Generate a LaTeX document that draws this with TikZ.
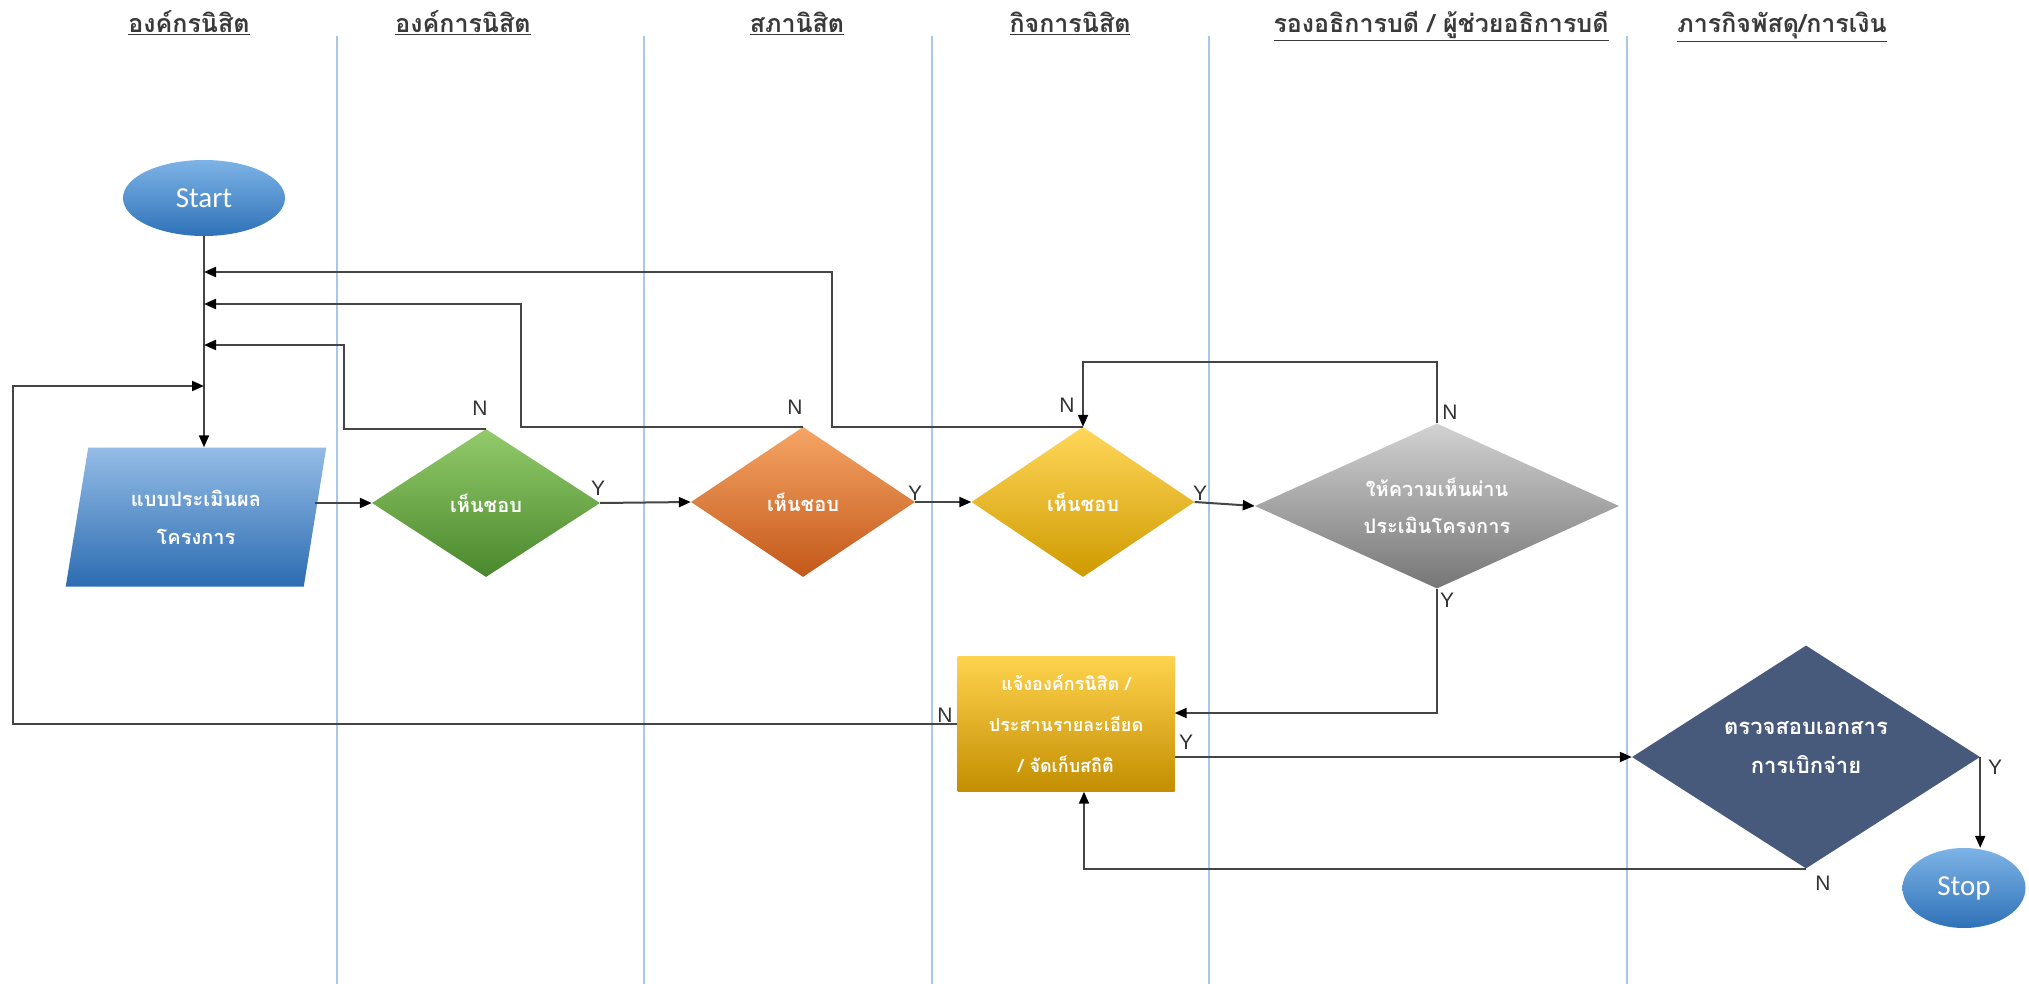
\documentclass[tikz,border=0pt]{standalone}
\usepackage{fontspec}
\setmainfont{Liberation Sans}
\newfontfamily\thaifont[Script=Thai]{Loma}
\newfontfamily\termfont{Carlito}
\usetikzlibrary{shapes.geometric,arrows.meta}

\definecolor{laneblue}{HTML}{A9C8E8}
\definecolor{headgrey}{HTML}{3A3A3A}
\definecolor{linegrey}{HTML}{454545}
\definecolor{termtop}{HTML}{7DB3E6}
\definecolor{termbot}{HTML}{2F72B8}
\definecolor{paratop}{HTML}{94BCE6}
\definecolor{parabot}{HTML}{2C6CB2}
\definecolor{greentop}{HTML}{92CB6A}
\definecolor{greenbot}{HTML}{4A882D}
\definecolor{orangetop}{HTML}{F5A565}
\definecolor{orangebot}{HTML}{C3581A}
\definecolor{yellowtop}{HTML}{FFD75A}
\definecolor{yellowbot}{HTML}{CF9A00}
\definecolor{greytop}{HTML}{D2D2D2}
\definecolor{greybot}{HTML}{767676}
\definecolor{recttop}{HTML}{FFD34E}
\definecolor{rectbot}{HTML}{C38E00}
\definecolor{slate}{HTML}{485A7C}

\begin{document}
\begin{tikzpicture}[x=1pt,y=-1pt,
  lane/.style={draw=laneblue, line width=1.5pt},
  head/.style={font=\thaifont\bfseries\fontsize{25}{28}\selectfont, text=headgrey, anchor=base},
  conn/.style={draw=linegrey, line width=2pt},
  arr/.style={conn, -{Triangle[length=12pt,width=10pt,color=black]}},
  yn/.style={font=\fontsize{21}{24}\selectfont, text=black!80},
  term/.style={ellipse, inner sep=0pt, text=white, font=\termfont\fontsize{29}{32}\selectfont},
  choice/.style={diamond, inner sep=0pt, text=white, align=center,
    font=\thaifont\bfseries\fontsize{20}{37}\selectfont},
]
\useasboundingbox (0,0) rectangle (2029,984);
\fill[white] (0,0) rectangle (2029,984);

% swimlane separators
\foreach \x in {337,644,932,1209,1627}
  \draw[lane] (\x,36) -- (\x,984);

% lane headings
\node[head] (h1) at (189,33) {\underline{องค์กรนิสิต}};
\node[head] (h2) at (463,33) {\underline{องค์การนิสิต}};
\node[head] (h3) at (797,33) {\underline{สภานิสิต}};
\node[head] (h4) at (1070,33) {\underline{กิจการนิสิต}};
\node[head] (h5) at (1441,33) {\underline{รองอธิการบดี / ผู้ช่วยอธิการบดี}};
\node[head] (h6) at (1782,33) {\underline{ภารกิจพัสดุ/การเงิน}};

% flow steps
\node[term, minimum width=162pt, minimum height=76pt, top color=termtop, bottom color=termbot] (start) at (204,198) {Start};
\node[trapezium, trapezium left angle=76, trapezium right angle=104, trapezium stretches=true,
      minimum width=261pt, minimum height=139pt, inner sep=0pt,
      top color=paratop, bottom color=parabot, text=white, align=center,
      font=\thaifont\bfseries\fontsize{20}{38}\selectfont] (para) at (196,517) {แบบประเมินผล\\โครงการ};
\node[choice, aspect=1.5, minimum width=228pt, minimum height=148pt, top color=greentop, bottom color=greenbot] (green) at (486,503) {เห็นชอบ};
\node[choice, aspect=1.5, minimum width=224pt, minimum height=150pt, top color=orangetop, bottom color=orangebot] (orange) at (803,502) {เห็นชอบ};
\node[choice, aspect=1.5, minimum width=223pt, minimum height=150pt, top color=yellowtop, bottom color=yellowbot] (yellow) at (1083,502) {เห็นชอบ};
\node[choice, aspect=2.2, minimum width=364pt, minimum height=165pt, top color=greytop, bottom color=greybot] (grey) at (1437,506) {ให้ความเห็นผ่าน\\ประเมินโครงการ};
\node[rectangle, minimum width=217pt, minimum height=135pt, inner sep=0pt, top color=recttop, bottom color=rectbot,
      text=white, align=center, font=\thaifont\bfseries\fontsize{18}{41}\selectfont] (rect) at (1066,724)
      {แจ้งองค์กรนิสิต /\\ประสานรายละเอียด\\/ จัดเก็บสถิติ};
\node[choice, aspect=1.56, minimum width=348pt, minimum height=223pt, fill=slate, font=\thaifont\bfseries\fontsize{22}{39}\selectfont]
      (dark) at (1806,757) {\raisebox{6pt}[0pt][0pt]{\begin{tabular}{@{}c@{}}ตรวจสอบเอกสาร\\การเบิกจ่าย\end{tabular}}};
\node[term, minimum width=123pt, minimum height=80pt, top color=termtop, bottom color=termbot] (stop) at (1964,888) {Stop};

% junction points on the trunk below Start
\coordinate (j1) at (204,272);
\coordinate (j2) at (204,304);
\coordinate (j3) at (204,345);
\coordinate (j4) at (204,386);

% main line
\draw[arr] (start.south) -- (start.south |- para.north);
\draw[arr] (para.east |- green.west) -- (green.west);
\draw[arr] (green.east) -- (orange.west);
\draw[arr] (orange.east) -- (yellow.west);
\draw[arr] (yellow.east) -- (grey.west);

% rejections back to the start
\draw[arr] (green.north) -| (344,345) -- (j3);
\draw[arr] (orange.north) -| (521,304) -- (j2);
\draw[arr] (yellow.north) -| (832,272) -- (j1);
\draw[arr] (grey.north) |- (1083,362) -- (yellow.north);
\draw[arr] (rect.west) -| (13,386) -- (j4);

% approval and disbursement
\draw[arr] (grey.south) |- (rect.east |- 0,713);
\draw[arr] (rect.east |- 0,757) -- (dark.west);
\draw[arr] (dark.south) -| ([xshift=18pt]rect.south);
\draw[arr] (dark.east) -- (dark.east |- stop.north);

% decision labels
\node[yn] (ng) at (480,408) {N};
\node[yn] (no) at (795,407) {N};
\node[yn] (ny) at (1067,405) {N};
\node[yn] (nr) at (1450,412) {N};
\node[yn] (nb) at (945,715) {N};
\node[yn] (nd) at (1823,883) {N};
\node[yn] (yg) at (598,488) {Y};
\node[yn] (yo) at (915,493) {Y};
\node[yn] (yy) at (1200,493) {Y};
\node[yn] (yr) at (1447,600) {Y};
\node[yn] (yb) at (1186,742) {Y};
\node[yn] (yd) at (1995,767) {Y};
\end{tikzpicture}
\end{document}
